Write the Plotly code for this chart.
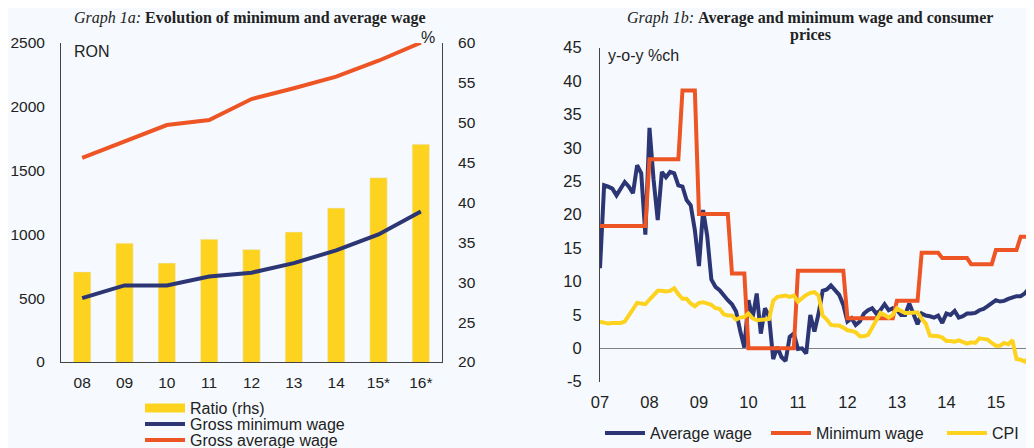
####################################################################################################################
# wages.py
#
# Graph 1a / 1b: minimum and average wage, ratio and consumer prices

####################################################################################################################
# IMPORTS
import plotly.graph_objects as go

####################################################################################################################
# DATA

# graph 1a - annual
years = ['08', '09', '10', '11', '12', '13', '14', '15*', '16*']
ratio = [31.3, 34.9, 32.4, 35.4, 34.1, 36.3, 39.3, 43.1, 47.3]              # %, rhs
gross_min_wage = [500, 600, 600, 670, 700, 775, 875, 1000, 1180]           # RON
gross_avg_wage = [1600, 1730, 1857, 1896, 2061, 2145, 2236, 2361, 2502]    # RON

# graph 1b - monthly, y-o-y %ch, Jan 2007 onwards
avg_wage_yoy = [
    12.0, 24.4, 24.2, 23.9, 22.9, 23.9, 24.9, 24.2, 23.2, 27.4, 26.2, 17.0,   # 2007
    33.0, 25.2, 19.2, 26.4, 25.6, 26.4, 26.2, 24.4, 24.2, 22.2, 21.4, 17.7,   # 2008
    12.3, 20.7, 16.8, 10.3, 9.2, 8.7, 7.9, 7.2, 6.6, 5.5, 2.6, 0.1,           # 2009
    7.2, 4.5, 8.2, 2.2, 6.0, 4.7, -1.6, 0.2, -1.3, -1.9, 1.7, 2.2,            # 2010
    -0.1, 0.0, -0.8, 5.0, 2.5, 5.2, 8.6, 8.8, 9.4, 8.8, 8.0, 6.5,             # 2011
    4.0, 4.5, 3.5, 4.0, 5.2, 5.7, 6.0, 5.2, 5.7, 6.6, 5.7, 6.0,               # 2012
    5.7, 5.0, 5.0, 6.7, 5.2, 3.6, 5.2, 4.9, 4.8, 4.6, 4.9, 3.8,               # 2013
    5.2, 5.0, 5.6, 4.6, 4.8, 5.2, 5.2, 5.3, 5.7, 5.9, 6.3, 6.8,               # 2014
    7.2, 7.0, 7.1, 7.4, 7.6, 7.8, 7.8, 8.2, 9.0, 10.0, 10.6,                  # 2015
]
min_wage_yoy = [
    18.3, 18.3, 18.3, 18.3, 18.3, 18.3, 18.3, 18.3, 18.3, 18.3, 18.3, 18.3,
    28.3, 28.3, 28.3, 28.3, 28.3, 28.3, 28.3, 28.3, 38.6, 38.6, 38.6, 38.6,
    20.1, 20.1, 20.1, 20.1, 20.1, 20.1, 20.1, 20.1, 11.2, 11.2, 11.2, 11.2,
    0.0, 0.0, 0.0, 0.0, 0.0, 0.0, 0.0, 0.0, 0.0, 0.0, 0.0, 0.0,
    11.6, 11.6, 11.6, 11.6, 11.6, 11.6, 11.6, 11.6, 11.6, 11.6, 11.6, 11.6,
    4.5, 4.5, 4.5, 4.5, 4.5, 4.5, 4.5, 4.5, 4.5, 4.5, 4.5, 4.5,
    7.1, 7.1, 7.1, 7.1, 7.1, 7.1, 14.3, 14.3, 14.3, 14.3, 14.3, 13.5,
    13.5, 13.5, 13.5, 13.5, 13.5, 13.5, 12.6, 12.6, 12.6, 12.6, 12.6, 12.6,
    14.7, 14.7, 14.7, 14.7, 14.7, 14.7, 16.7, 16.7, 16.7, 16.7, 16.7,
]
cpi_yoy = [
    4.0, 3.8, 3.7, 3.8, 3.8, 3.8, 4.0, 5.0, 6.0, 6.8, 6.7, 6.6,
    7.3, 8.0, 8.6, 8.6, 8.5, 8.6, 9.0, 8.1, 7.4, 7.4, 6.7, 6.3,
    6.8, 6.9, 6.7, 6.5, 6.0, 5.9, 5.1, 4.9, 4.9, 4.3, 4.6, 4.7,
    5.2, 4.5, 4.2, 4.3, 4.4, 4.4, 7.1, 7.7, 7.8, 7.9, 7.7, 7.9,
    7.0, 7.6, 8.0, 8.3, 8.4, 7.9, 4.9, 4.3, 3.5, 3.4, 3.4, 3.1,
    2.7, 2.6, 2.4, 1.8, 1.8, 2.0, 3.1, 3.9, 5.3, 5.0, 4.6, 5.0,
    6.0, 5.6, 5.3, 5.3, 5.3, 5.4, 4.4, 3.7, 1.9, 1.9, 1.8, 1.6,
    1.1, 1.1, 1.0, 1.2, 0.9, 0.7, 0.9, 0.8, 1.5, 1.4, 1.3, 0.8,
    0.4, 0.4, 0.8, 0.6, 1.2, -1.6, -1.7, -2.0, -1.5, -1.6, -1.5,
]
month_x = [2007 + i / 12 for i in range(len(cpi_yoy))]
year_ticks = list(range(2007, 2016))
year_labels = ['07', '08', '09', '10', '11', '12', '13', '14', '15']
yoy_ticks = list(range(-5, 50, 5))
yoy_labels = ['-5', '0', '5', '10', '15', '20', '25', '30', '35', '40', '45']   # plain hyphen, as in the source

####################################################################################################################
# STYLE
# the page body keeps its default 8px margin, so the figure is sized to fill the rest of the window
OFF = 8
W, H = 1034 - OFF, 448 - OFF
BG = '#F6FAFE'
NAVY = '#2D3674'
ORANGE = '#EE5525'
YELLOW = '#FDD31F'
TXT = '#222222'
SANS = 'Liberation Sans, Arial, sans-serif'
SERIF = 'Liberation Serif, Times New Roman, serif'


def px(x):
    # window pixel -> paper fraction
    return (x - OFF) / W


def py(y):
    return 1 - (y - OFF) / H


####################################################################################################################
# FIGURE
fig = go.Figure()

# graph 1a - bars on the primary (rhs) axis so the lines on the overlaying axis sit on top
fig.add_trace(go.Bar(x=years, y=ratio, marker_color=YELLOW, width=0.41,
                     xaxis='x', yaxis='y', showlegend=False, name='Ratio (rhs)'))
# legend swatch for the bars
fig.add_trace(go.Scatter(x=[None], y=[None], mode='lines', line=dict(color=YELLOW, width=9),
                         xaxis='x', yaxis='y', name='Ratio (rhs)', legend='legend'))
fig.add_trace(go.Scatter(x=years, y=gross_min_wage, mode='lines', line=dict(color=NAVY, width=4),
                         xaxis='x', yaxis='y2', name='Gross minimum wage', legend='legend2'))
fig.add_trace(go.Scatter(x=years, y=gross_avg_wage, mode='lines', line=dict(color=ORANGE, width=4),
                         xaxis='x', yaxis='y2', name='Gross average wage', legend='legend3'))

# graph 1b
fig.add_trace(go.Scatter(x=month_x, y=avg_wage_yoy, mode='lines', line=dict(color=NAVY, width=4),
                         xaxis='x2', yaxis='y3', name='Average wage', legend='legend4'))
fig.add_trace(go.Scatter(x=month_x, y=min_wage_yoy, mode='lines', line=dict(color=ORANGE, width=4),
                         xaxis='x2', yaxis='y3', name='Minimum wage', legend='legend5'))
fig.add_trace(go.Scatter(x=month_x, y=cpi_yoy, mode='lines', line=dict(color=YELLOW, width=4),
                         xaxis='x2', yaxis='y3', name='CPI', legend='legend6'))

# layout configuration
axis_common = dict(showgrid=False, zeroline=False, ticks='', linecolor='#444444', linewidth=1,
                   automargin=False)

fig.update_layout(
    width=W, height=H,
    margin=dict(l=0, r=0, t=0, b=0, autoexpand=False),
    paper_bgcolor=BG, plot_bgcolor=BG,
    font=dict(family=SANS, color=TXT, size=15),
    xaxis=dict(axis_common, domain=[px(61), px(442)], anchor='y', type='category', showline=True,
               tickfont=dict(size=15.5), ticklabelstandoff=6),
    yaxis=dict(axis_common, domain=[py(362), py(43)], anchor='x', side='right', range=[20, 60],
               dtick=5, showline=True, tickfont=dict(size=15.5), ticklabelstandoff=12),
    yaxis2=dict(axis_common, overlaying='y', side='left', anchor='x', range=[0, 2500], dtick=500,
                showline=True, tickfont=dict(size=15.5), ticklabelstandoff=12),
    xaxis2=dict(axis_common, domain=[px(600), 1], anchor='y3', range=[2007, 2015.77],
                tickvals=year_ticks, ticktext=year_labels, showline=False,
                tickfont=dict(size=16.5), ticklabelstandoff=9),
    yaxis3=dict(axis_common, domain=[py(381.7), py(47.7)], anchor='x2', range=[-5, 45],
                tickvals=yoy_ticks, ticktext=yoy_labels,
                showline=True, zeroline=True, zerolinecolor='#808080', zerolinewidth=1,
                tickfont=dict(size=16.5), ticklabelstandoff=14),
)

legend_common = dict(bgcolor='rgba(0,0,0,0)', font=dict(size=16, color=TXT), itemwidth=40,
                     xanchor='left', yanchor='middle', tracegroupgap=0)
fig.update_layout(
    legend=dict(legend_common, x=px(140), y=py(408)),
    legend2=dict(legend_common, x=px(140), y=py(424)),
    legend3=dict(legend_common, x=px(140), y=py(440)),
    legend4=dict(legend_common, x=px(600), y=py(433)),
    legend5=dict(legend_common, x=px(766), y=py(433)),
    legend6=dict(legend_common, x=px(942), y=py(433)),
)

# titles and unit labels
note = dict(xref='paper', yref='paper', showarrow=False, yanchor='middle')
fig.add_annotation(note, x=px(250), y=py(18), xanchor='center',
                   text='<i>Graph 1a:</i> <b>Evolution of minimum and average wage</b>',
                   font=dict(family=SERIF, size=16, color=TXT))
# graph 1b title wraps onto two lines, set as two lines for tighter spacing
fig.add_annotation(note, x=px(810), y=py(18), xanchor='center',
                   text='<i>Graph 1b:</i> <b>Average and minimum wage and consumer</b>',
                   font=dict(family=SERIF, size=16, color=TXT))
fig.add_annotation(note, x=px(810), y=py(35), xanchor='center',
                   text='<b>prices</b>',
                   font=dict(family=SERIF, size=16, color=TXT))
fig.add_annotation(note, x=px(72), y=py(52), xanchor='left',
                   text='RON', font=dict(size=16, color=TXT))
fig.add_annotation(note, x=px(437), y=py(38), xanchor='right',
                   text='%', font=dict(size=16, color=TXT))
fig.add_annotation(note, x=px(606), y=py(55), xanchor='left',
                   text='y-o-y %ch', font=dict(size=16, color=TXT))

fig.write_html("out.html")
